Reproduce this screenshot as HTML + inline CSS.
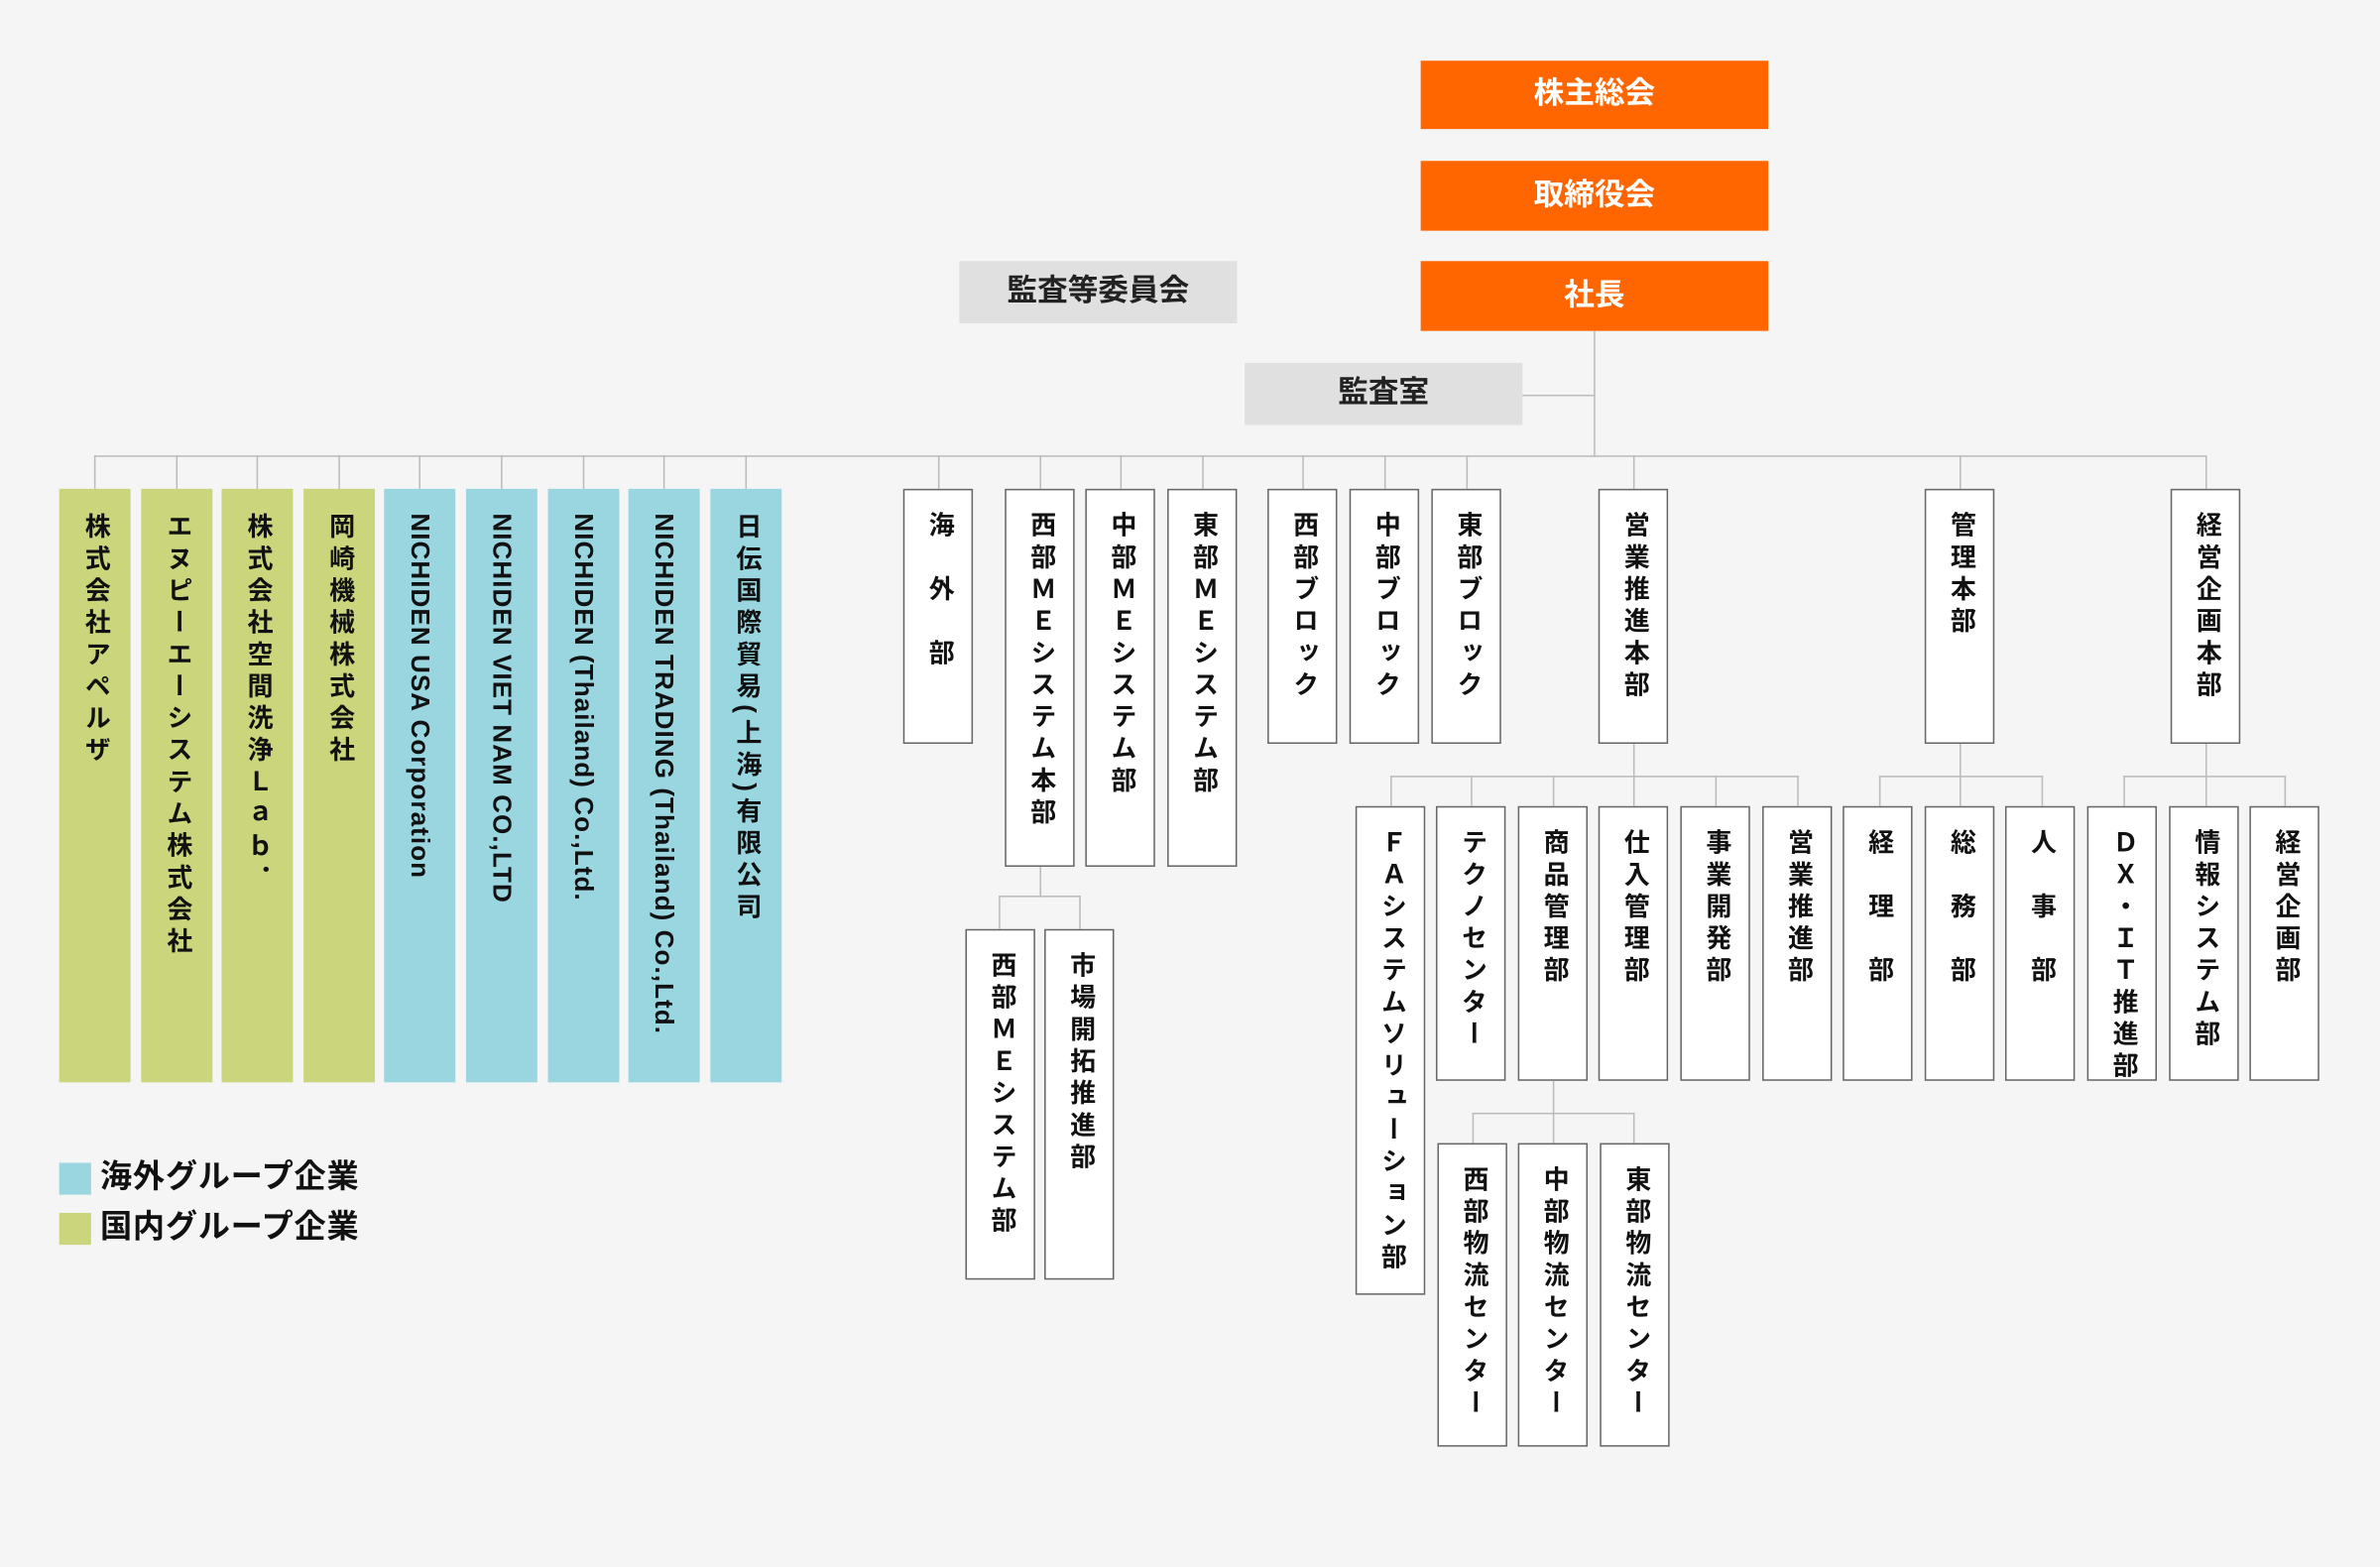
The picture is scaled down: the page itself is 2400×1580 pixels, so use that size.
<!DOCTYPE html>
<html><head><meta charset="utf-8"><style>
html,body{margin:0;padding:0;background:#f5f5f5;}
body{width:2400px;height:1580px;overflow:hidden;}
#c{position:absolute;left:0;top:0;width:1568px;height:1032px;transform:scale(1.530612);transform-origin:0 0;font-family:"Liberation Sans","Noto Sans CJK JP",sans-serif;font-weight:bold;color:#111;}
.b{position:absolute;box-sizing:border-box;writing-mode:vertical-rl;font-size:17px;letter-spacing:4px;padding-top:14px;white-space:nowrap;}
.w{background:#fff;border:1.3px solid #666;}
.g{background:#cad57c;padding-top:16px;}
.u{background:#9ad6e0;padding-top:16px;}
.h{position:absolute;background:#bbb;height:1.3px;}
.v{position:absolute;background:#bbb;width:1.3px;}
.o{position:absolute;background:#ff6600;color:#fff;font-size:20px;text-align:center;}
.gr{position:absolute;background:#e0e0e0;font-size:20px;text-align:center;color:#222;}
.lg{position:absolute;left:66px;font-size:21px;line-height:22px;letter-spacing:0.5px;}
</style></head><body><div id="c">
<div class="o" style="left:936px;top:40px;width:229px;height:45px;line-height:45px">株主総会</div>
<div class="o" style="left:936px;top:106px;width:229px;height:46px;line-height:46px">取締役会</div>
<div class="o" style="left:936px;top:172px;width:229px;height:46px;line-height:46px">社長</div>
<div class="gr" style="left:632px;top:172px;width:183px;height:41px;line-height:41px">監査等委員会</div>
<div class="gr" style="left:820px;top:239px;width:183px;height:41px;line-height:41px">監査室</div>
<div class="v" style="left:1050px;top:218px;height:83px"></div>
<div class="h" style="left:1003px;top:260px;width:48px"></div>
<div class="h" style="left:62px;top:300px;width:1392px"></div>
<div class="v" style="left:62px;top:300px;height:22px"></div>
<div class="v" style="left:116px;top:300px;height:22px"></div>
<div class="v" style="left:169px;top:300px;height:22px"></div>
<div class="v" style="left:223px;top:300px;height:22px"></div>
<div class="v" style="left:276px;top:300px;height:22px"></div>
<div class="v" style="left:330px;top:300px;height:22px"></div>
<div class="v" style="left:384px;top:300px;height:22px"></div>
<div class="v" style="left:437px;top:300px;height:22px"></div>
<div class="v" style="left:491px;top:300px;height:22px"></div>
<div class="v" style="left:618px;top:300px;height:22px"></div>
<div class="v" style="left:685px;top:300px;height:22px"></div>
<div class="v" style="left:738px;top:300px;height:22px"></div>
<div class="v" style="left:792px;top:300px;height:22px"></div>
<div class="v" style="left:858px;top:300px;height:22px"></div>
<div class="v" style="left:912px;top:300px;height:22px"></div>
<div class="v" style="left:966px;top:300px;height:22px"></div>
<div class="v" style="left:1076px;top:300px;height:22px"></div>
<div class="v" style="left:1291px;top:300px;height:22px"></div>
<div class="v" style="left:1453px;top:300px;height:22px"></div>
<div class="b g" style="left:39px;top:322px;width:47px;height:391px;line-height:47px">株式会社アペルザ</div>
<div class="b g" style="left:93px;top:322px;width:47px;height:391px;line-height:47px">エヌピーエーシステム株式会社</div>
<div class="b g" style="left:146px;top:322px;width:47px;height:391px;line-height:47px">株式会社空間洗浄Ｌａｂ．</div>
<div class="b g" style="left:200px;top:322px;width:47px;height:391px;line-height:47px">岡崎機械株式会社</div>
<div class="b u" style="left:253px;top:322px;width:47px;height:391px;line-height:47px;letter-spacing:0.7px">NICHIDEN USA Corporation</div>
<div class="b u" style="left:307px;top:322px;width:47px;height:391px;line-height:47px;letter-spacing:0.7px">NICHIDEN VIET NAM CO.,LTD</div>
<div class="b u" style="left:361px;top:322px;width:47px;height:391px;line-height:47px;letter-spacing:0.7px">NICHIDEN (Thailand) Co.,Ltd.</div>
<div class="b u" style="left:414px;top:322px;width:47px;height:391px;line-height:47px;letter-spacing:0.7px">NICHIDEN TRADING (Thailand) Co.,Ltd.</div>
<div class="b u" style="left:468px;top:322px;width:47px;height:391px;line-height:47px">日伝国際貿易(上海)有限公司</div>
<div class="b w" style="left:595px;top:322px;width:46px;height:168px;line-height:44px">海　外　部</div>
<div class="b w" style="left:662px;top:322px;width:46px;height:249px;line-height:44px">西部ＭＥシステム本部</div>
<div class="b w" style="left:715px;top:322px;width:46px;height:249px;line-height:44px">中部ＭＥシステム部</div>
<div class="b w" style="left:769px;top:322px;width:46px;height:249px;line-height:44px">東部ＭＥシステム部</div>
<div class="b w" style="left:835px;top:322px;width:46px;height:168px;line-height:44px">西部ブロック</div>
<div class="b w" style="left:889px;top:322px;width:46px;height:168px;line-height:44px">中部ブロック</div>
<div class="b w" style="left:943px;top:322px;width:46px;height:168px;line-height:44px">東部ブロック</div>
<div class="b w" style="left:1053px;top:322px;width:46px;height:168px;line-height:44px">営業推進本部</div>
<div class="b w" style="left:1268px;top:322px;width:46px;height:168px;line-height:44px">管理本部</div>
<div class="b w" style="left:1430px;top:322px;width:46px;height:168px;line-height:44px">経営企画本部</div>
<div class="v" style="left:685px;top:571px;height:20px"></div>
<div class="h" style="left:658px;top:590px;width:54px"></div>
<div class="v" style="left:658px;top:590px;height:22px"></div>
<div class="v" style="left:711px;top:590px;height:22px"></div>
<div class="b w" style="left:636px;top:612px;width:46px;height:231px;line-height:44px">西部ＭＥシステム部</div>
<div class="b w" style="left:688px;top:612px;width:46px;height:231px;line-height:44px">市場開拓推進部</div>
<div class="v" style="left:1076px;top:490px;height:21px"></div>
<div class="h" style="left:916px;top:511px;width:269px"></div>
<div class="v" style="left:916px;top:511px;height:20px"></div>
<div class="v" style="left:969px;top:511px;height:20px"></div>
<div class="v" style="left:1023px;top:511px;height:20px"></div>
<div class="v" style="left:1076px;top:511px;height:20px"></div>
<div class="v" style="left:1130px;top:511px;height:20px"></div>
<div class="v" style="left:1184px;top:511px;height:20px"></div>
<div class="b w" style="left:893px;top:531px;width:46px;height:322px;line-height:44px">ＦＡシステムソリューション部</div>
<div class="b w" style="left:946px;top:531px;width:46px;height:181px;line-height:44px">テクノセンター</div>
<div class="b w" style="left:1000px;top:531px;width:46px;height:181px;line-height:44px">商品管理部</div>
<div class="b w" style="left:1053px;top:531px;width:46px;height:181px;line-height:44px">仕入管理部</div>
<div class="b w" style="left:1107px;top:531px;width:46px;height:181px;line-height:44px">事業開発部</div>
<div class="b w" style="left:1161px;top:531px;width:46px;height:181px;line-height:44px">営業推進部</div>
<div class="v" style="left:1291px;top:490px;height:21px"></div>
<div class="h" style="left:1238px;top:511px;width:108px"></div>
<div class="v" style="left:1238px;top:511px;height:20px"></div>
<div class="v" style="left:1291px;top:511px;height:20px"></div>
<div class="v" style="left:1345px;top:511px;height:20px"></div>
<div class="b w" style="left:1214px;top:531px;width:46px;height:181px;line-height:44px">経　理　部</div>
<div class="b w" style="left:1268px;top:531px;width:46px;height:181px;line-height:44px">総　務　部</div>
<div class="b w" style="left:1321px;top:531px;width:46px;height:181px;line-height:44px">人　事　部</div>
<div class="v" style="left:1453px;top:490px;height:21px"></div>
<div class="h" style="left:1399px;top:511px;width:107px"></div>
<div class="v" style="left:1399px;top:511px;height:20px"></div>
<div class="v" style="left:1453px;top:511px;height:20px"></div>
<div class="v" style="left:1505px;top:511px;height:20px"></div>
<div class="b w" style="left:1375px;top:531px;width:46px;height:181px;line-height:44px">ＤＸ・ＩＴ推進部</div>
<div class="b w" style="left:1429px;top:531px;width:46px;height:181px;line-height:44px">情報システム部</div>
<div class="b w" style="left:1482px;top:531px;width:46px;height:181px;line-height:44px">経営企画部</div>
<div class="v" style="left:1023px;top:712px;height:21px"></div>
<div class="h" style="left:970px;top:733px;width:107px"></div>
<div class="v" style="left:970px;top:733px;height:20px"></div>
<div class="v" style="left:1023px;top:733px;height:20px"></div>
<div class="v" style="left:1076px;top:733px;height:20px"></div>
<div class="b w" style="left:947px;top:753px;width:46px;height:200px;line-height:44px">西部物流センター</div>
<div class="b w" style="left:1000px;top:753px;width:46px;height:200px;line-height:44px">中部物流センター</div>
<div class="b w" style="left:1054px;top:753px;width:46px;height:200px;line-height:44px">東部物流センター</div>
<div style="position:absolute;left:39px;top:766px;width:21px;height:21px;background:#9ad6e0"></div>
<div class="lg" style="top:765px">海外グループ企業</div>
<div style="position:absolute;left:39px;top:799px;width:21px;height:21px;background:#cad57c"></div>
<div class="lg" style="top:798px">国内グループ企業</div>
</div></body></html>
